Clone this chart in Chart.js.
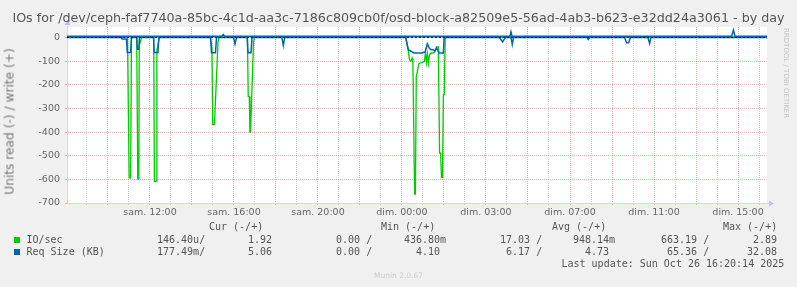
<!DOCTYPE html>
<html>
<head>
<meta charset="utf-8">
<script src="https://cdn.jsdelivr.net/npm/chart.js@4.4.1/dist/chart.umd.min.js"></script>
<style>
body { margin: 0; background: #f0f0f0; }
#wrap { position: relative; width: 797px; height: 287px; overflow: hidden; font-family: "DejaVu Sans"; color: #666; }
canvas { position: absolute; left: 0; top: 0; }
.t { position: absolute; white-space: pre; }
.mono { font-family: "DejaVu Sans Mono"; font-size: 10px; line-height: 12px; color: #555; }
.sq { position: absolute; width: 6px; height: 6px; }
</style>
</head>
<body>
<div id="wrap">
<canvas id="myChart" width="797" height="287"></canvas>
<div class="t" id="title" style="left:0;top:10px;width:797px;text-align:center;font-size:12.7px;line-height:15px;color:#555">IOs for /dev/ceph-faf7740a-85bc-4c1d-aa3c-7186c809cb0f/osd-block-a82509e5-56ad-4ab3-b623-e32dd24a3061 - by day</div>
<div class="t" id="ylab" style="left:-90px;top:114px;width:200px;text-align:center;font-size:12.2px;line-height:15px;color:#777;transform:rotate(-90deg);transform-origin:50% 50%">Units read (-) / write (+)</div>
<div class="t" id="rrd" style="left:790px;top:28px;font-size:7px;line-height:8px;color:#c4c4c4;transform:rotate(90deg);transform-origin:0 0">RRDTOOL / TOBI OETIKER</div>
<div class="t" id="munin" style="left:0;top:271px;width:797px;text-align:center;font-size:7.5px;line-height:9px;color:#ccc">Munin 2.0.67</div>
</div>
<script>
// time in hours since sam. 00:00 (real time, DST ends at 27h)
var startHour = 8.05;
var endHour = 41.38;

// tick labels
var labelHours = [12, 16, 20, 24, 28, 32, 36, 40];
var labelTexts = ['sam. 12:00', 'sam. 16:00', 'sam. 20:00', 'dim. 00:00', 'dim. 03:00', 'dim. 07:00', 'dim. 11:00', 'dim. 15:00'];

// IO/sec read (drawn negative)
var ioReadT = [8.05, 10.93, 11.01, 11.08, 11.12, 11.37, 11.42, 11.47, 11.49, 11.60,
  12.18, 12.21, 12.30, 12.33, 12.45, 14.88, 14.95, 14.99, 15.07, 15.24, 15.29,
  16.64, 16.68, 16.73, 16.76, 16.79, 16.93, 16.98,
  24.17, 24.29, 24.36, 24.43, 24.48, 24.52, 24.60, 24.64, 24.68, 24.74, 24.81, 24.90,
  25.00, 25.07, 25.12, 25.17, 25.21, 25.26, 25.31, 25.38, 25.48, 25.57, 25.64, 25.73,
  25.79, 25.84, 25.88, 25.93, 25.97, 26.01, 26.06, 41.38];
var ioReadV = [0, 0, 594, 594, 0, 0, 599, 599, 35, 0,
  0, 608, 608, 55, 0, 0, 45, 369, 369, 20, 0,
  0, 250, 250, 400, 400, 20, 0,
  0, 50, 95, 100, 88, 108, 662, 662, 165, 140, 110, 108,
  105, 100, 65, 105, 70, 110, 75, 66, 66, 60, 40, 40,
  489, 489, 592, 592, 243, 243, 0, 0];

// IO/sec write
var ioWriteT = [8.05, 41.38];
var ioWriteV = [1.9, 1.9];

// Req Size (KB) read (drawn negative)
var reqReadT = [8.05, 10.64, 10.67, 10.88, 10.92, 11.08, 11.12, 11.37, 11.40, 11.47, 11.50,
  12.17, 12.20, 12.38, 12.42, 14.88, 14.93, 15.12, 15.17, 15.98, 16.05, 16.12,
  16.63, 16.67, 16.81, 16.86, 18.28, 18.35, 18.42,
  24.18, 24.30, 24.57, 24.94, 25.10, 25.21, 25.30, 25.38, 25.49, 25.57, 25.65, 25.78, 25.97, 26.01,
  28.64, 28.79, 28.93, 29.19, 29.25, 29.31, 32.80, 32.87, 32.95,
  34.60, 34.69, 34.79, 34.88, 35.71, 35.79, 35.86, 41.38];
var reqReadV = [0, 0, 7, 7, 64, 64, 0, 0, 50, 50, 0,
  0, 64, 64, 0, 0, 65, 65, 0, 0, 28, 0,
  0, 65, 65, 0, 0, 34, 0,
  0, 52, 66, 66, 62, 27, 45, 52, 52, 58, 45, 66, 66, 0,
  0, 19, 0, 0, 30, 0, 0, 9, 0,
  0, 23, 23, 0, 0, 26, 0, 0];

// Req Size (KB) write
var reqWriteT = [8.05, 15.43, 15.49, 15.55, 29.14, 29.19, 29.24, 39.70, 39.78, 39.86, 41.38];
var reqWriteV = [5, 5, 12, 5, 5, 24, 5, 5, 31, 5, 5];

// legend
var statHeads = ['Cur (-/+)', 'Min (-/+)', 'Avg (-/+)', 'Max (-/+)'];
var seriesNames = ['IO/sec', 'Req Size (KB)'];
var seriesColors = ['#00cc00', '#0066b3'];
var ioStats = ['146.40u/', '  1.92 ', '  0.00 /', '436.80m', ' 17.03 /', '948.14m', '663.19 /', '  2.89 '];
var reqStats = ['177.49m/', '  5.06 ', '  0.00 /', '  4.10 ', '  6.17 /', '  4.73 ', ' 65.36 /', ' 32.08 '];
var lastUpdate = 'Last update: Sun Oct 26 16:20:14 2025';

var headX = [209, 381, 552, 723];
var colX = [157, 236, 324, 404, 494, 573, 661, 741];
var rowY = [234, 246];

var wrap = document.getElementById('wrap');
function addText(txt, x, y, cls) {
  var d = document.createElement('div');
  d.className = 't ' + cls;
  d.style.left = x + 'px';
  d.style.top = y + 'px';
  d.textContent = txt;
  wrap.appendChild(d);
}
for (var h = 0; h < statHeads.length; h++) addText(statHeads[h], headX[h], 221, 'mono');
[ioStats, reqStats].forEach(function (stats, r) {
  var sq = document.createElement('div');
  sq.className = 'sq';
  sq.style.left = '14px';
  sq.style.top = (rowY[r] + 3) + 'px';
  sq.style.background = seriesColors[r];
  wrap.appendChild(sq);
  addText(seriesNames[r], 26.5, rowY[r], 'mono');
  for (var c = 0; c < stats.length; c++) addText(stats[c], colX[c], rowY[r], 'mono');
});
addText(lastUpdate, 561.5, 258, 'mono');

function pts(ts, vs, sign) {
  return ts.map(function (t, i) { return { x: t, y: sign * vs[i] }; });
}

var gridHours = [];
for (var g = 9; g <= 41; g++) gridHours.push(g);
var gridY = [];
for (var v = -700; v <= 0; v += 50) gridY.push(v);

var majorCol = 'rgba(222,79,79,0.45)';
var minorCol = 'rgba(143,143,143,0.38)';
var axisCol = '#cfd6f8';

var bgPlugin = {
  id: 'bg',
  beforeDraw: function (chart) {
    var a = chart.chartArea, ctx = chart.ctx;
    ctx.save();
    ctx.fillStyle = '#ffffff';
    ctx.fillRect(a.left, a.top, a.right - a.left, a.bottom - a.top);
    ctx.restore();
  },
  afterDatasetsDraw: function (chart) {
    var a = chart.chartArea, ctx = chart.ctx;
    var y0 = Math.round(chart.scales.y.getPixelForValue(0)) + 0.5;
    ctx.save();
    ctx.strokeStyle = '#000';
    ctx.lineWidth = 1;
    ctx.setLineDash([2, 2]);
    ctx.beginPath();
    ctx.moveTo(a.left, y0);
    ctx.lineTo(a.right, y0);
    ctx.stroke();
    ctx.restore();
  },
  afterDraw: function (chart) {
    var a = chart.chartArea, ctx = chart.ctx;
    ctx.save();
    ctx.strokeStyle = axisCol;
    ctx.fillStyle = '#b8c2f2';
    ctx.lineWidth = 1;
    ctx.beginPath();
    ctx.moveTo(a.right, a.bottom + 0.5); ctx.lineTo(a.right + 2, a.bottom + 0.5);
    ctx.moveTo(a.left + 0.5, a.top); ctx.lineTo(a.left + 0.5, a.top - 2);
    ctx.stroke();
    ctx.beginPath();
    ctx.moveTo(a.right + 2, a.bottom - 2.5); ctx.lineTo(a.right + 7, a.bottom + 0.5); ctx.lineTo(a.right + 2, a.bottom + 3.5);
    ctx.closePath(); ctx.fill();
    ctx.beginPath();
    ctx.moveTo(a.left - 2.5, a.top - 2); ctx.lineTo(a.left + 0.5, a.top - 7); ctx.lineTo(a.left + 3.5, a.top - 2);
    ctx.closePath(); ctx.fill();
    ctx.restore();
  }
};

var tickFont = { family: 'DejaVu Sans', size: 9.5 };

new Chart(document.getElementById('myChart'), {
  type: 'line',
  data: {
    datasets: [
      { label: 'Req Size read', data: pts(reqReadT, reqReadV, -1), borderColor: '#0066b3', borderWidth: 1.5, order: 1 },
      { label: 'Req Size write', data: pts(reqWriteT, reqWriteV, 1), borderColor: '#0066b3', borderWidth: 1.5, order: 1 },
      { label: 'IO/sec read', data: pts(ioReadT, ioReadV, -1), borderColor: '#00cc00', order: 2 },
      { label: 'IO/sec write', data: pts(ioWriteT, ioWriteV, 1), borderColor: '#00cc00', order: 2 }
    ]
  },
  options: {
    responsive: false,
    animation: false,
    devicePixelRatio: 1,
    layout: { padding: { left: 0, top: 27, right: 30, bottom: 64 } },
    elements: {
      line: { borderWidth: 1.3, tension: 0, fill: false },
      point: { radius: 0, hoverRadius: 0 }
    },
    plugins: { legend: { display: false }, title: { display: false }, tooltip: { enabled: false } },
    scales: {
      x: {
        type: 'linear',
        min: startHour,
        max: endHour,
        afterBuildTicks: function (s) { s.ticks = gridHours.map(function (v) { return { value: v }; }); },
        afterFit: function (s) { s.height = 20; },
        ticks: {
          autoSkip: false, maxRotation: 0, padding: 2, color: '#666', font: tickFont,
          callback: function (value) {
            var i = labelHours.indexOf(Math.round(value));
            return i >= 0 ? labelTexts[i] : '';
          }
        },
        grid: {
          color: function (c) { return c.tick && Math.round(c.tick.value) % 2 === 0 ? majorCol : minorCol; },
          tickLength: 2
        },
        border: { color: axisCol, dash: [1, 1] }
      },
      y: {
        min: -700,
        max: 44,
        afterBuildTicks: function (s) { s.ticks = gridY.map(function (v) { return { value: v }; }); },
        afterFit: function (s) { s.width = 67; },
        ticks: {
          padding: 5, color: '#666', font: tickFont,
          callback: function (value) { return value % 100 === 0 ? String(value) : ''; }
        },
        grid: {
          color: function (c) { return c.tick && c.tick.value % 100 === 0 ? majorCol : minorCol; },
          tickLength: 2
        },
        border: { color: axisCol, dash: [1, 1] }
      }
    }
  },
  plugins: [bgPlugin]
});
</script>
</body>
</html>
